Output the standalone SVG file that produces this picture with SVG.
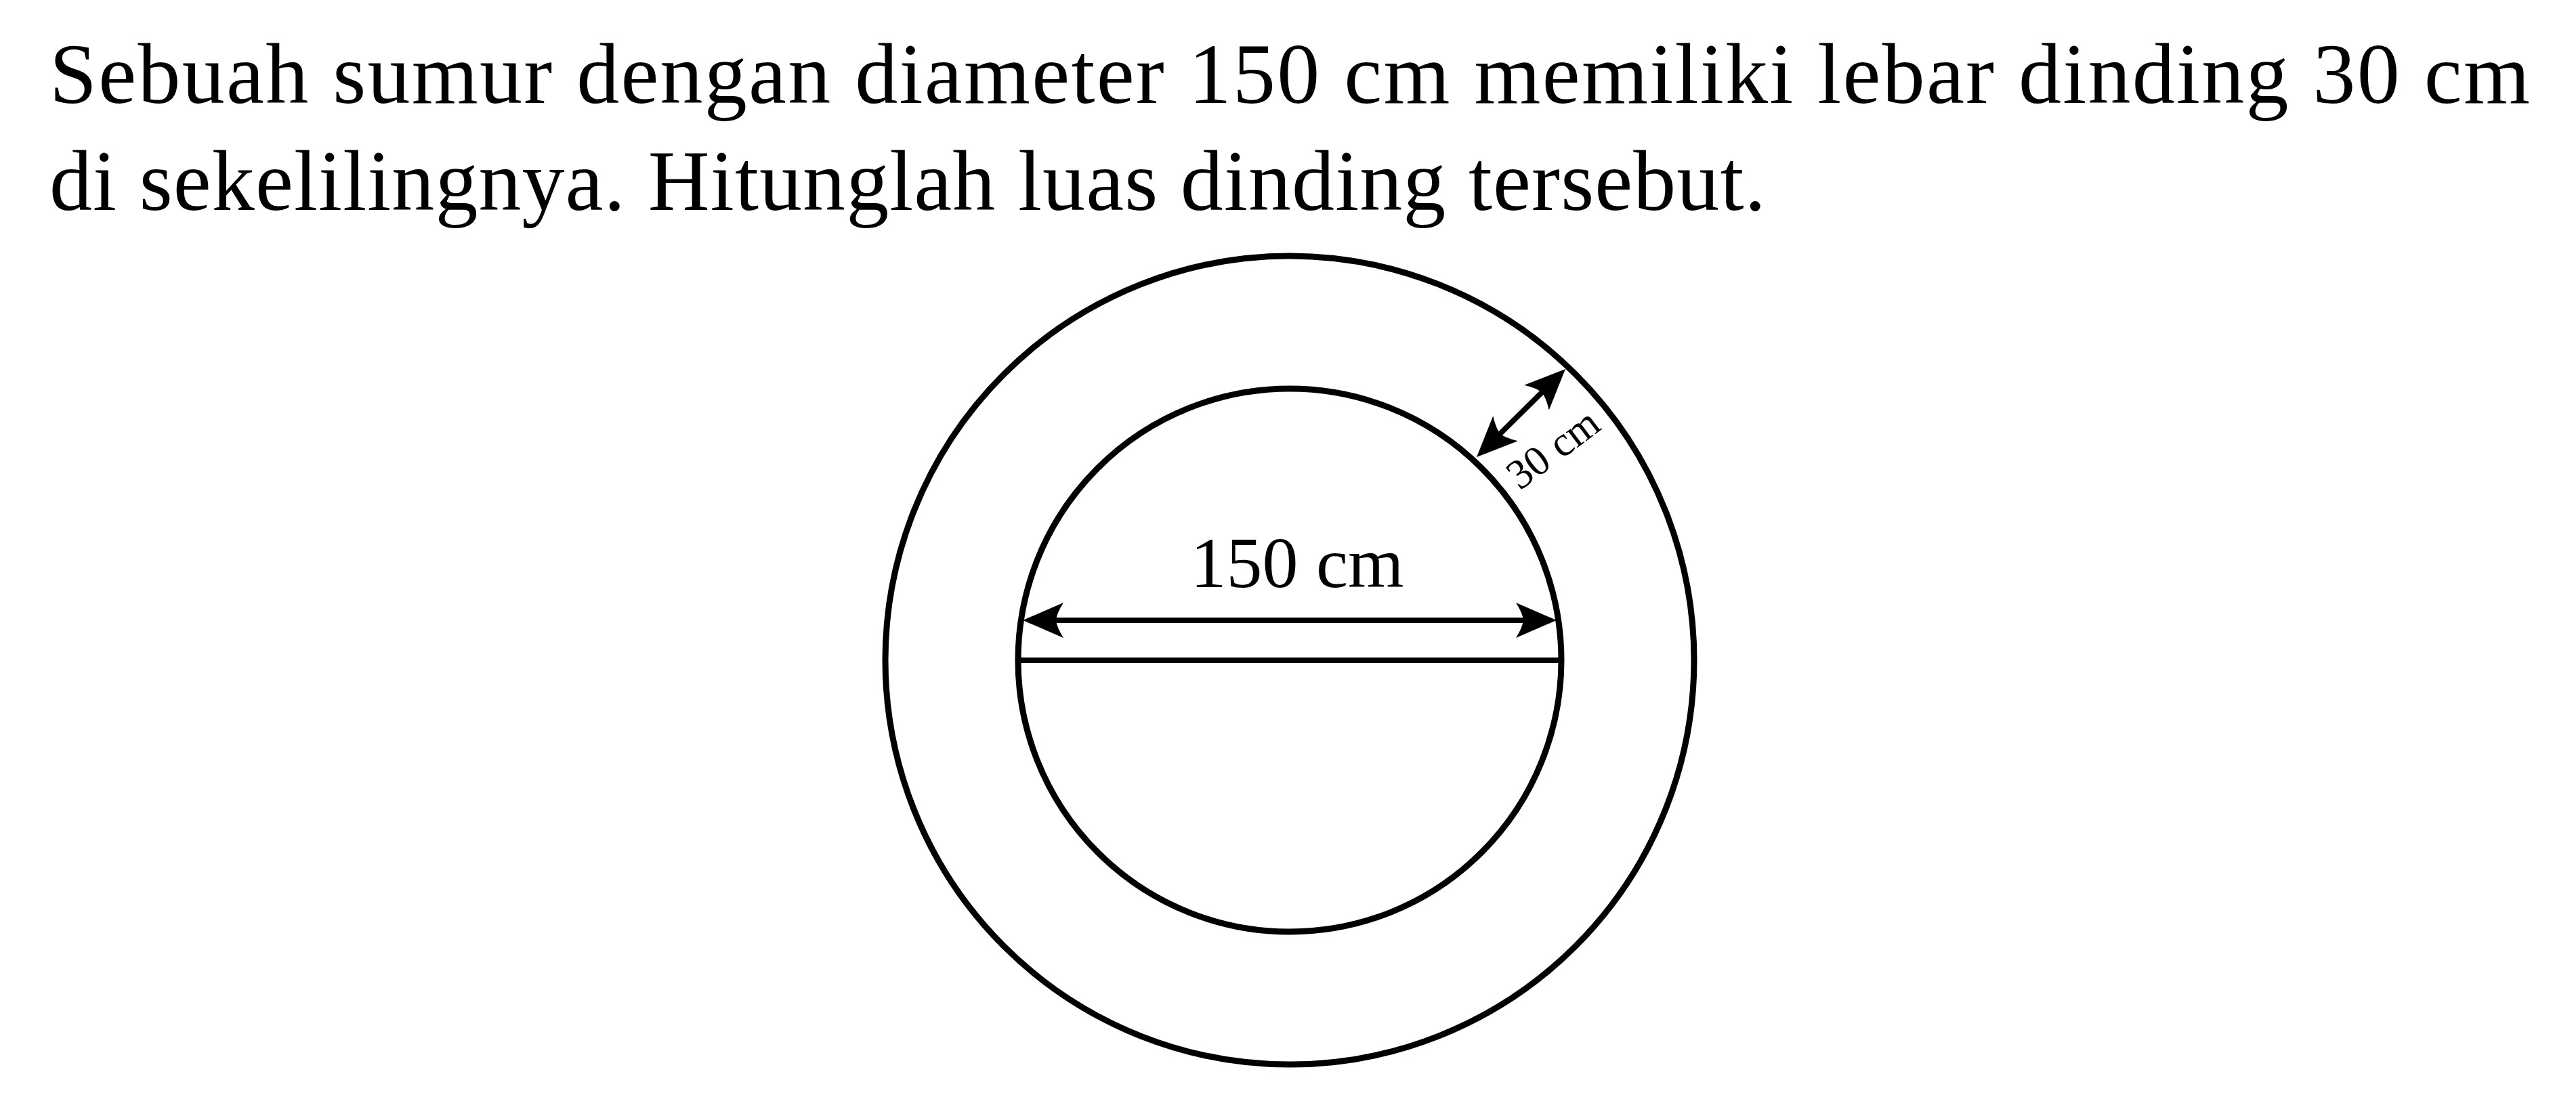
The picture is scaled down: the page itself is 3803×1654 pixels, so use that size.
<svg xmlns="http://www.w3.org/2000/svg" width="3803" height="1654" viewBox="0 0 3803 1654">
<style>
.t{font-family:"Liberation Serif","Times New Roman",serif;fill:#000}
.c{fill:none;stroke:#000;stroke-width:9}
.l{stroke:#000;stroke-width:8;fill:none}
</style>
<defs>
<path id="ah" d="M0,0 L-60,-26 Q-50,-10 -49,0 Q-50,10 -60,26 Z" fill="#000"/>
</defs>
<rect width="3803" height="1654" fill="#fff"/>
<g id="question">
<text class="t" x="73" y="152" font-size="126" textLength="3662" lengthAdjust="spacing">Sebuah sumur dengan diameter 150 cm memiliki lebar dinding 30 cm</text>
<text class="t" x="73" y="310" font-size="126" textLength="2534" lengthAdjust="spacing">di sekelilingnya. Hitunglah luas dinding tersebut.</text>
</g>
<g id="outer-circle"><circle class="c" cx="1904" cy="975" r="597"/></g>
<g id="inner-circle"><circle class="c" cx="1904" cy="975" r="401"/></g>
<g id="connectors">
<line class="l" x1="1503" y1="975" x2="2305" y2="975"/>
<line class="l" x1="1530" y1="916" x2="2280" y2="916"/>
<use href="#ah" transform="translate(1510,916) rotate(180)"/>
<use href="#ah" transform="translate(2298,916)"/>
<line class="l" stroke-width="7" x1="2195" y1="660" x2="2296" y2="560"/>
<use href="#ah" transform="translate(2311,545) rotate(-44.8)"/>
<use href="#ah" transform="translate(2180,675) rotate(135.2)"/>
</g>
<g id="label-150"><text class="t" x="1915" y="867" font-size="106" text-anchor="middle">150 cm</text></g>
<g id="label-30"><text class="t" x="2305" y="679" font-size="62" text-anchor="middle" transform="rotate(-37 2305 679)">30 cm</text></g>
</svg>
